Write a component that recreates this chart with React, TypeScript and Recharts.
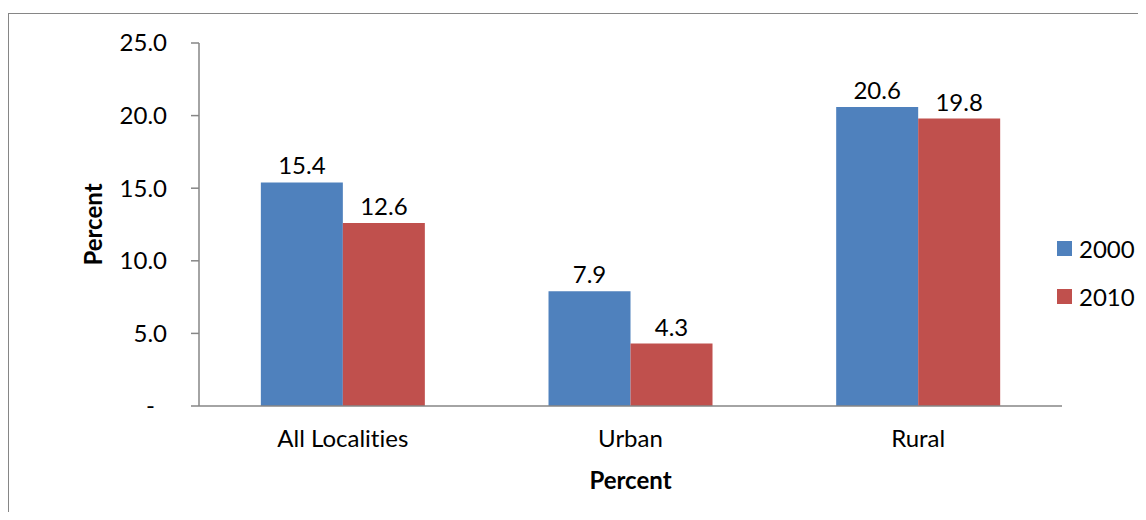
import React from 'react'
import { BarChart, Bar, XAxis, YAxis, Legend, LabelList, Label } from 'recharts'

const CATEGORIES = ['All Localities', 'Urban', 'Rural']
const Y2000 = [15.4, 7.9, 20.6]
const Y2010 = [12.6, 4.3, 19.8]
const Y_TICKS = [0, 5, 10, 15, 20, 25]

const BLUE = '#4F81BD'
const RED = '#C0504D'
const AXIS = '#868686'
const FONT = 'Lato, Calibri, sans-serif'
const FS = 24

const data = CATEGORIES.map((name, i) => ({ name, y2000: Y2000[i], y2010: Y2010[i] }))

const YTick = (props: any) => {
	const { x, y, payload } = props
	const v = payload.value as number
	return (
		<text
			x={v === 0 ? x - 12 : x}
			y={y}
			dy="0.35em"
			textAnchor="end"
			fontFamily={FONT}
			fontSize={FS}
			fill="#000"
		>
			{v === 0 ? '-' : v.toFixed(1)}
		</text>
	)
}

const YTitle = (props: any) => {
	const { viewBox } = props
	const cy = viewBox.y + viewBox.height / 2
	return (
		<text
			x={84}
			y={cy}
			transform={`rotate(-90 84 ${cy})`}
			textAnchor="middle"
			dominantBaseline="central"
			fontFamily={FONT}
			fontSize={FS}
			fontWeight="bold"
			fill="#000"
		>
			Percent
		</text>
	)
}

const LegendBox = () => (
	<div style={{ fontFamily: FONT, fontSize: FS, color: '#000' }}>
		{[
			{ c: BLUE, t: '2000' },
			{ c: RED, t: '2010' },
		].map((it) => (
			<div key={it.t} style={{ height: 48, display: 'flex', alignItems: 'center' }}>
				<span style={{ width: 15, height: 15, background: it.c, marginRight: 7, display: 'inline-block' }} />
				<span>{it.t}</span>
			</div>
		))}
	</div>
)

const App: React.FC = () => {
	return (
		<div
			style={{
				position: 'relative',
				width: 1130,
				height: 512,
				marginBottom: -8,
				overflow: 'hidden',
				fontVariantLigatures: 'none',
			}}
		>
			<div
				style={{
					position: 'absolute',
					left: 0,
					top: 5,
					width: 1200,
					height: 600,
					border: `1px solid ${AXIS}`,
				}}
			/>
			<BarChart
				width={1130}
				height={504}
				data={data}
				margin={{ top: 35, right: 76, bottom: 0, left: 0 }}
				barCategoryGap="21.5%"
				barGap={0}
				style={{ position: 'absolute', left: 0, top: 0 }}
			>
				<XAxis
					dataKey="name"
					height={106}
					tickLine={false}
					tickSize={0}
					tickMargin={24}
					axisLine={{ stroke: AXIS, strokeWidth: 1.5 }}
					tick={{ fontFamily: FONT, fontSize: FS, fill: '#000' }}
				>
					<Label
						value="Percent"
						position="insideBottom"
						offset={23}
						style={{ fontFamily: FONT, fontSize: FS, fontWeight: 'bold', fill: '#000' }}
					/>
				</XAxis>
				<YAxis
					width={191}
					domain={[0, 25]}
					ticks={Y_TICKS}
					interval={0}
					tickSize={8}
					tickMargin={24}
					axisLine={{ stroke: AXIS, strokeWidth: 1.5 }}
					tickLine={{ stroke: AXIS, strokeWidth: 1.5 }}
					tick={<YTick />}
				>
					<Label content={<YTitle />} />
				</YAxis>
				<Legend
					layout="horizontal"
					verticalAlign="middle"
					align="center"
					content={<LegendBox />}
					wrapperStyle={{ position: 'absolute', left: 1049, top: 216, width: 'auto' }}
				/>
				<Bar dataKey="y2000" fill={BLUE} isAnimationActive={false}>
					<LabelList
						dataKey="y2000"
						position="top"
						offset={8}
						formatter={(v: any) => Number(v).toFixed(1)}
						style={{ fontFamily: FONT, fontSize: FS, fill: '#000' }}
					/>
				</Bar>
				<Bar dataKey="y2010" fill={RED} isAnimationActive={false}>
					<LabelList
						dataKey="y2010"
						position="top"
						offset={8}
						formatter={(v: any) => Number(v).toFixed(1)}
						style={{ fontFamily: FONT, fontSize: FS, fill: '#000' }}
					/>
				</Bar>
			</BarChart>
		</div>
	)
}

export default App
